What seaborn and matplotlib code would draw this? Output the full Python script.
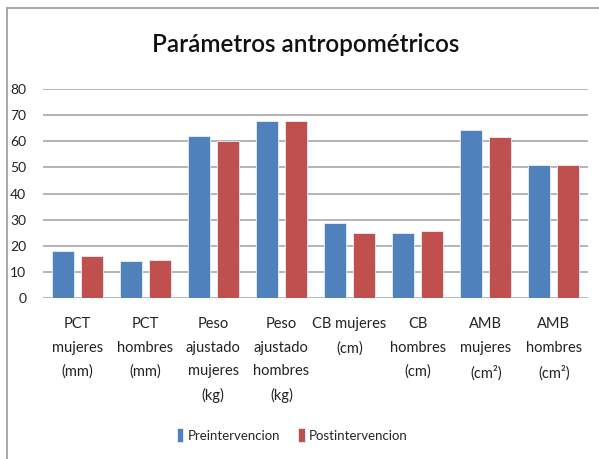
import matplotlib
matplotlib.use("Agg")
import matplotlib.pyplot as plt
import seaborn as sns
import pandas as pd
from matplotlib.lines import Line2D
from matplotlib.patches import Patch

categories = ["PCT\nmujeres\n(mm)", "PCT\nhombres\n(mm)", "Peso\najustado\nmujeres\n(kg)",
              "Peso\najustado\nhombres\n(kg)", "CB mujeres\n(cm)", "CB\nhombres\n(cm)",
              "AMB\nmujeres\n(cm²)", "AMB\nhombres\n(cm²)"]
pre = [17.8, 14.0, 62.2, 67.6, 28.7, 24.9, 64.4, 50.8]
post = [16.2, 14.5, 60.2, 67.6, 24.9, 25.5, 61.6, 50.8]
series = ["Preintervencion", "Postintervencion"]
colors = ["#4F81BD", "#C0504D"]
yticks = [0, 10, 20, 30, 40, 50, 60, 70, 80]

df = pd.DataFrame({
    "cat": categories * 2,
    "val": pre + post,
    "serie": [series[0]] * len(categories) + [series[1]] * len(categories),
})

sns.set_theme(style="white")
FONT = ["Lato", "DejaVu Sans"]
plt.rcParams["font.family"] = FONT

fig = plt.figure(figsize=(5.99, 4.59), dpi=100)
ax = fig.add_axes([0.0718, 0.3508, 0.9098, 0.4552])

sns.barplot(data=df, x="cat", y="val", hue="serie", palette=colors, width=0.85, gap=0.24,
            ax=ax, legend=False, saturation=1, edgecolor="#e8eef8", linewidth=0.6)

ax.set_xlim(-0.5, 7.5)
ax.set_ylim(0, 80)
ax.set_yticks(yticks)
ax.set_yticklabels([str(v) for v in yticks], fontsize=10, color="#222222")
ax.yaxis.grid(True, color="#a0a0a0", linewidth=1.1)
ax.set_axisbelow(True)
for s in ax.spines.values():
    s.set_visible(False)
ax.tick_params(axis="y", length=0, pad=12)
ax.tick_params(axis="x", length=0, pad=14)
ax.set_xlabel("")
ax.set_ylabel("")
for lbl in ax.get_xticklabels():
    lbl.set_fontsize(10.5)
    lbl.set_linespacing(1.85)
    lbl.set_verticalalignment("top")
    lbl.set_color("#222222")

fig.text(0.51, 0.902, "Parámetros antropométricos", ha="center", va="center",
         fontsize=17.5, fontweight="semibold", color="#111111", family=FONT)

handles = [Patch(facecolor=c, edgecolor="#e8eef8", linewidth=0.6) for c in colors]
fig.legend(handles, series, loc="center", bbox_to_anchor=(0.488, 0.052), ncol=2,
           frameon=False, fontsize=9.5, handlelength=0.5, handleheight=1.3,
           handletextpad=0.3, columnspacing=1.4)

fig.add_artist(Line2D([0.012, 1.0], [0.982, 0.982], color="#9a9a9a", linewidth=1.2,
                      transform=fig.transFigure))
fig.add_artist(Line2D([0.012, 0.012], [0.0, 0.982], color="#9a9a9a", linewidth=1.2,
                      transform=fig.transFigure))

fig.savefig("out.png", dpi=100)
